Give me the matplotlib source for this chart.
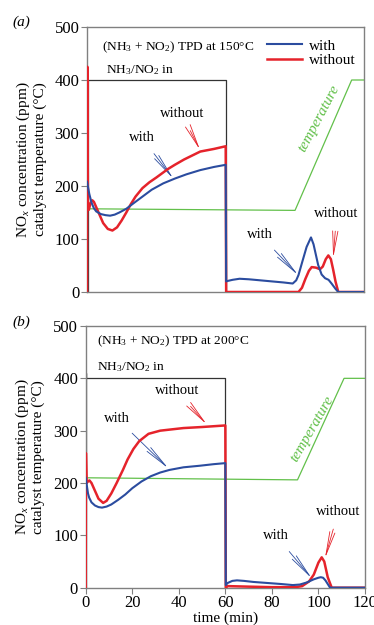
import matplotlib
matplotlib.use("Agg")
import matplotlib.pyplot as plt

plt.rcParams['font.family'] = ['Liberation Serif', 'DejaVu Serif']
plt.rcParams['mathtext.fontset'] = 'custom'
plt.rcParams['mathtext.rm'] = 'Liberation Serif'
plt.rcParams['mathtext.it'] = 'Liberation Serif:italic'

#- Colores -#
AZUL = '#2b4c9f'
ROJO = '#e5232b'
VERDE = '#62c04a'
GRIS = '#808080'

#- Datos del panel (a): TPD a 150 C -#
t_with_a = [0, 1, 2, 3, 4, 6, 8, 10, 12, 14, 17, 20, 24, 28, 33, 38, 43, 49, 55, 60,
            60.2, 61, 63, 66, 70, 75, 80, 85, 89, 90.5, 91.5, 93, 95, 96.9, 98, 100,
            101.5, 103, 104.5, 105.8, 107.5, 108.7, 120]
v_with_a = [208, 185, 168, 158, 152, 147, 145, 144, 146, 150, 157, 167, 180, 193, 205, 214, 222, 230, 236, 240,
            20, 21, 23, 25, 24, 22, 20, 18, 16, 22, 32, 55, 85, 103, 90, 51,
            33, 26, 23, 16, 6, 0, 0]

t_without_a = [0, 0.15, 0.4, 0.8, 1.5, 2.3, 3, 4, 5.5, 7, 9, 11, 13, 15, 17, 19, 21, 24, 27, 30,
               35, 38, 42, 49, 55, 60, 60.2, 80, 91.5, 93, 94.5, 96, 97.2, 99, 100.8, 102, 103.3,
               104.4, 105.5, 106.5, 107.5, 108.7, 120]
v_without_a = [0, 425, 160, 155, 168, 173, 170, 160, 145, 130, 119, 116, 122, 135, 150, 166, 180, 196, 207, 216,
               232, 240, 250, 265, 270, 275, 0, 0, 0, 8, 25, 40, 47, 46, 43, 48, 62,
               69, 62, 42, 20, 0, 0]

t_temp_a = [0, 90, 114.5, 120]
v_temp_a = [157, 154, 400, 400]

t_in_a = [0.5, 0.5, 60, 60]
v_in_a = [0, 400, 400, 0]

#- Datos del panel (b): TPD a 200 C -#
t_with_b = [0, 0.5, 1, 1.5, 2.5, 4, 5.5, 7, 9, 11, 14, 17, 20, 24, 28, 32, 36, 42, 49, 55, 60,
            60.2, 61, 63, 65, 68, 72, 78, 84, 89, 92, 95, 98, 100, 101, 102, 103, 104, 105, 120]
v_with_b = [210, 195, 180, 172, 163, 157, 154, 153, 155, 159, 168, 178, 190, 203, 213, 220, 225, 230, 233, 236, 238,
            5, 9, 13, 14, 13, 11, 9, 7, 5, 6, 10, 16, 19, 20, 19, 14, 7, 0, 0]

t_without_b = [0, 0.1, 0.4, 1, 1.6, 2.5, 4, 5.5, 7.5, 9, 11, 13.3, 16, 18, 20.5, 23, 27, 32, 42, 50, 60,
               60.2, 61, 70, 80, 90, 93, 96, 98, 100, 101.4, 102.5, 104, 105.7, 120]
v_without_b = [0, 257, 200, 203, 205, 200, 185, 170, 162, 166, 180, 200, 225, 245, 265, 280, 294, 300, 305, 307, 310,
               0, 3, 2, 1, 1, 3, 12, 25, 48, 58, 50, 20, 0, 0]

t_temp_b = [0, 91, 111, 120]
v_temp_b = [210, 206, 400, 400]

t_in_b = [0.3, 0.3, 0.3, 60, 60]
v_in_b = [0, 410, 400, 400, 0]

ticks_x = [0, 20, 40, 60, 80, 100, 120]
ticks_y = [0, 100, 200, 300, 400, 500]

fig = plt.figure(figsize=(3.74, 6.25), dpi=100)
ax_a = fig.add_axes([0.2326, 0.5328, 0.7417, 0.424])
ax_b = fig.add_axes([0.2291, 0.0597, 0.7468, 0.4187])

flecha = '->,head_length=1.6,head_width=0.18'


def anotar(ax, texto, xy, xytext, color):
    ax.annotate(texto, xy=xy, xytext=xytext, fontsize=10.5, ha='center', va='center',
                arrowprops=dict(arrowstyle=flecha, color=color, lw=0.6, shrinkA=6, shrinkB=0))


def dibujar(ax, t_in, v_in, t_w, v_w, t_wo, v_wo, t_t, v_t):
    ax.plot(t_in, v_in, color='#333333', lw=0.9, zorder=2)
    ax.plot(t_t, v_t, color=VERDE, lw=0.9, zorder=3)
    ax.plot(t_wo, v_wo, color=ROJO, lw=1.8, zorder=4, label='without')
    ax.plot(t_w, v_w, color=AZUL, lw=1.5, zorder=5, label='with')
    ax.set_xlim(0, 120)
    ax.set_ylim(0, 500)
    ax.set_yticks(ticks_y)
    for s in ax.spines.values():
        s.set_color(GRIS)
        s.set_linewidth(1.0)
    ax.tick_params(axis='y', direction='out', length=4, width=0.8, color=GRIS,
                   labelsize=12, pad=1.5)
    ax.set_ylabel("NO$_x$ concentration (ppm)\ncatalyst temperature (°C)",
                  fontsize=11, linespacing=1.1)
    ax.yaxis.set_label_coords(-0.145, 0.5)


#- Panel (a) -#
dibujar(ax_a, t_in_a, v_in_a, t_with_a, v_with_a, t_without_a, v_without_a, t_temp_a, v_temp_a)
ax_a.set_xticks([])
ax_a.text(6.4, 462, "(NH$_3$ + NO$_2$) TPD at 150°C", fontsize=9.6, va='center')
ax_a.text(8.2, 419, "NH$_3$/NO$_2$ in", fontsize=9.6, va='center')
manejadores, etiquetas = ax_a.get_legend_handles_labels()
ax_a.legend(manejadores[::-1], etiquetas[::-1], loc='upper right', frameon=False,
            fontsize=11, handlelength=2.3, handletextpad=0.4, labelspacing=0.05,
            borderaxespad=0.2, bbox_to_anchor=(1.0, 0.99))
anotar(ax_a, 'with', (37.3, 214), (23.7, 291), AZUL)
anotar(ax_a, 'without', (48.9, 268), (41, 336), ROJO)
anotar(ax_a, 'with', (91.3, 32), (74.8, 108), AZUL)
anotar(ax_a, 'without', (106.5, 64), (108, 148), ROJO)
ax_a.text(100.5, 328, 'temperature', color=VERDE, fontsize=11, style='italic',
          rotation=62, ha='center', va='center')
fig.text(0.058, 0.965, '(a)', fontsize=11, style='italic', ha='center', va='center')

#- Panel (b) -#
dibujar(ax_b, t_in_b, v_in_b, t_with_b, v_with_b, t_without_b, v_without_b, t_temp_b, v_temp_b)
ax_b.set_xticks(ticks_x)
ax_b.tick_params(axis='x', direction='out', length=4, width=0.8, color=GRIS,
                 labelsize=12, pad=1.5)
ax_b.set_xlabel('time (min)', fontsize=11, labelpad=0)
ax_b.text(4.7, 471, "(NH$_3$ + NO$_2$) TPD at 200°C", fontsize=9.6, va='center')
ax_b.text(5.0, 422, "NH$_3$/NO$_2$ in", fontsize=9.6, va='center')
anotar(ax_b, 'with', (35.5, 228), (13.3, 324), AZUL)
anotar(ax_b, 'without', (52, 312), (39.1, 376), ROJO)
anotar(ax_b, 'with', (97.1, 18), (81.8, 99), AZUL)
anotar(ax_b, 'without', (102.8, 56), (108.5, 145), ROJO)
ax_b.text(97.5, 304, 'temperature', color=VERDE, fontsize=11, style='italic',
          rotation=60, ha='center', va='center')
fig.text(0.058, 0.485, '(b)', fontsize=11, style='italic', ha='center', va='center')

fig.savefig('out.png', dpi=100)
